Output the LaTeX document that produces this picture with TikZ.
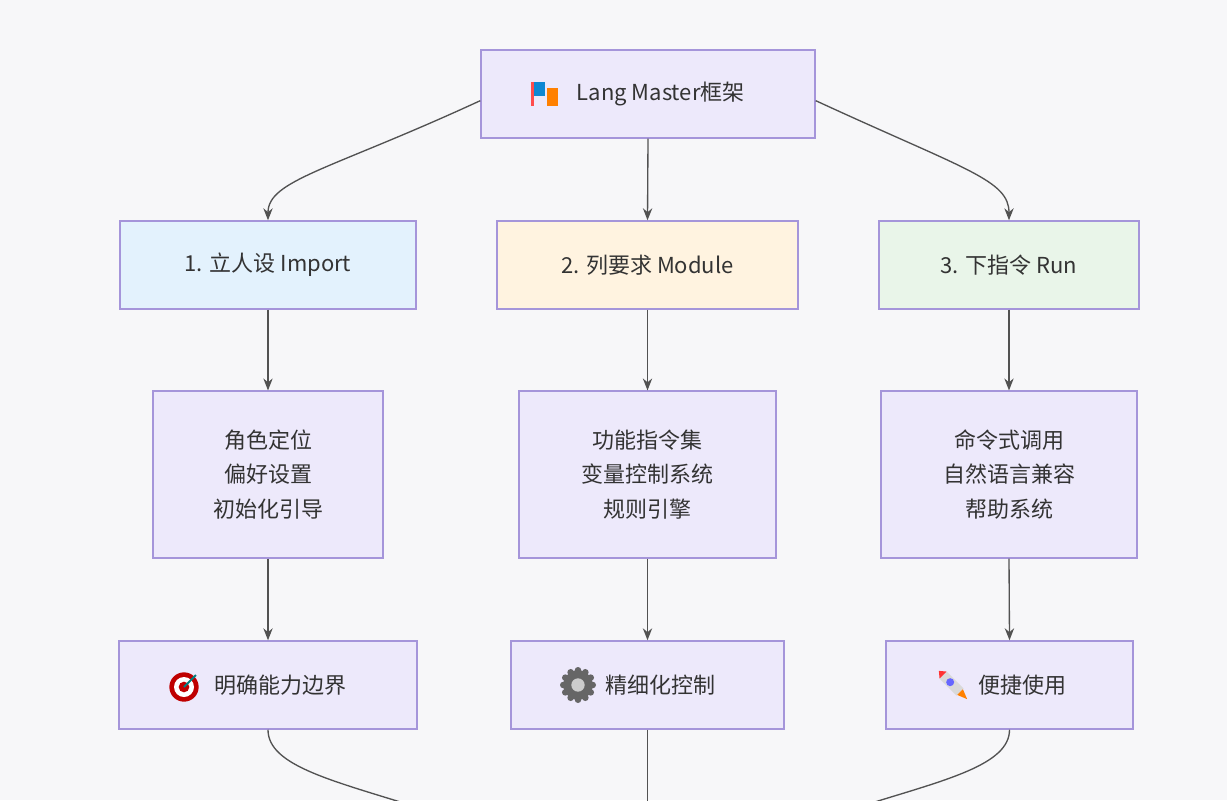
\documentclass[tikz,border=0pt]{standalone}
\usepackage{fontspec}
\setmainfont{Noto Sans CJK SC}
\usetikzlibrary{arrows.meta}
\definecolor{bg}{HTML}{F7F7F9}
\definecolor{bd}{HTML}{A595DA}
\definecolor{pf}{HTML}{EDE9FB}
\definecolor{bf}{HTML}{E3F2FD}
\definecolor{of}{HTML}{FFF3E0}
\definecolor{gf}{HTML}{E9F5E9}
\definecolor{tx}{HTML}{333333}
\begin{document}
\begin{tikzpicture}[x=0.75pt,y=-0.75pt,
  box/.style={draw=bd,line width=1.1pt,fill=pf,inner sep=0pt,text=tx,font=\fontsize{16.5}{26}\selectfont,align=center},
  ar/.style={draw=tx!85,line width=1pt,-{Stealth[length=9pt,width=7pt]}},
  ln/.style={draw=tx!85,line width=1pt}]
\fill[bg] (0,0) rectangle (1227,800);
\useasboundingbox (0,0) rectangle (1227,800);
\clip (0,0) rectangle (1227,800);
\node[box,minimum width=250.5pt,minimum height=66pt] (top) at (648,94) {\phantom{XX}Lang Master框架};
\node[box,fill=bf,minimum width=222pt,minimum height=66pt] (a1) at (268,265) {1. 立人设 Import};
\node[box,fill=of,minimum width=225.75pt,minimum height=66pt] (a2) at (647.5,265) {2. 列要求 Module};
\node[box,fill=gf,minimum width=195pt,minimum height=66pt] (a3) at (1009,265) {3. 下指令 Run};
\node[box,minimum width=172.5pt,minimum height=125pt] (b1) at (268,474.5) {角色定位\\偏好设置\\初始化引导};
\node[box,minimum width=192.75pt,minimum height=125pt] (b2) at (647.5,474.5) {功能指令集\\变量控制系统\\规则引擎};
\node[box,minimum width=192pt,minimum height=125pt] (b3) at (1009,474.5) {命令式调用\\自然语言兼容\\帮助系统};
\node[box,minimum width=223.5pt,minimum height=66pt] (c1) at (268,685) {\phantom{XX}明确能力边界};
\node[box,minimum width=204.75pt,minimum height=66pt] (c2) at (647.5,685) {\phantom{XX}精细化控制};
\node[box,minimum width=185.25pt,minimum height=66pt] (c3) at (1009.5,685) {\phantom{XX}便捷使用};
% icons
\begin{scope}[shift={(546,94)}]
 \fill[cyan!70!blue] (-14,-12) rectangle (-1,2);
 \fill[orange] (1,-6) rectangle (12,12);
 \fill[red!70] (-15,-12) rectangle (-12,12);
\end{scope}
\begin{scope}[shift={(184,687)}]
 \fill[red!75!black] (0,0) circle (11pt);
 \fill[white] (0,0) circle (7.5pt);
 \fill[red!75!black] (0,0) circle (4pt);
 \draw[teal,line width=1.5pt] (0,0) -- (12,-12);
\end{scope}
\begin{scope}[shift={(578,685)}]
 \fill[gray!80!black] (0,0) circle (11pt);
 \foreach \a in {0,30,...,330} \fill[gray!80!black] (\a:11pt) circle (2.5pt);
 \fill[gray!40] (0,0) circle (5pt);
\end{scope}
\begin{scope}[shift={(953,685)},rotate=45]
 \fill[gray!30] (-5,-14) -- (5,-14) -- (5,10) -- (-5,10) -- cycle;
 \fill[red!80] (-5,-14) -- (0,-20) -- (5,-14) -- cycle;
 \fill[orange] (-4,10) -- (0,20) -- (4,10) -- cycle;
 \fill[blue!60] (0,-4) circle (3pt);
\end{scope}
% connectors
\draw[ar] (top.south) -- (a2.north);
\draw[ar] ([yshift=-5pt]top.west) .. controls (330,170) and (268,180) .. (a1.north);
\draw[ar] ([yshift=-5pt]top.east) .. controls (966,170) and (1009,180) .. (a3.north);
\foreach \i in {1,2,3}{
 \draw[ar] (a\i.south) -- (b\i.north);
 \draw[ar] (b\i.south) -- (c\i.north);
}
\coordinate (e1) at (410,805);
\coordinate (e3) at (865,805);
\coordinate (e2) at (647.5,810);
\draw[ln] (c1.south) .. controls (268,765) and (330,780) .. (e1);
\draw[ln] (c3.south) .. controls (1009.5,765) and (945,780) .. (e3);
\draw[ln] (c2.south) -- (e2);
\end{tikzpicture}
\end{document}
